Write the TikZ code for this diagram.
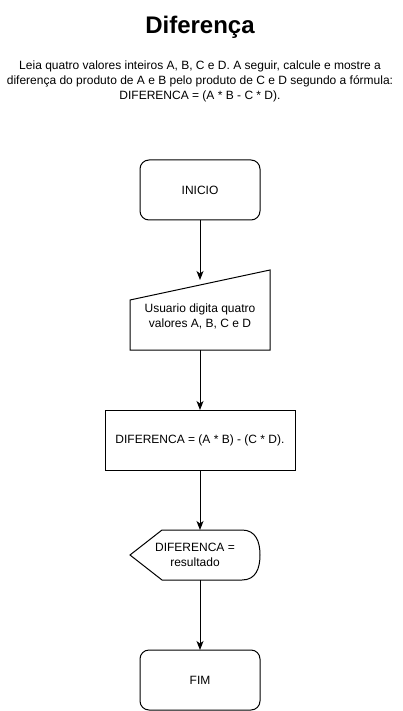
\documentclass[tikz,border=0pt]{standalone}
\usepackage{fontspec}
\setmainfont{Liberation Sans}
\usetikzlibrary{arrows.meta}
\begin{document}
\begin{tikzpicture}[x=1pt,y=-1pt,
  shapeline/.style={draw=black,line width=1pt},
  txt/.style={font=\fontsize{12}{15}\selectfont,align=center,inner sep=0pt},
  flow/.style={draw=black,line width=1pt,-{Stealth[length=9pt,width=7pt,inset=2.5pt]}}]
\useasboundingbox (0,0) rectangle (402,711);
% title and description
\node[font=\fontsize{24}{28}\selectfont\bfseries,inner sep=0pt] (title) at (200,27) {Diferença};
\node[txt] (desc) at (200,81) {Leia quatro valores inteiros A, B, C e D. A seguir, calcule e mostre a\\diferença do produto de A e B pelo produto de C e D segundo a fórmula:\\DIFERENCA = (A * B - C * D).};
% INICIO
\draw[shapeline,rounded corners=9pt] (140,160) rectangle (260,220);
\node[txt] (inicio) at (200,190) {INICIO};
\coordinate (inicioB) at (200,220);
% manual input
\draw[shapeline] (130,300) -- (270,270) -- (270,350) -- (130,350) -- cycle;
\node[txt] (entrada) at (200,316) {Usuario digita quatro\\valores A, B, C e D};
\coordinate (entradaT) at (200,280);
\coordinate (entradaB) at (200,350);
% process
\draw[shapeline] (105,410) rectangle (295,470);
\node[txt] (calc) at (200,440) {DIFERENCA = (A * B) - (C * D).};
\coordinate (calcT) at (200,410);
\coordinate (calcB) at (200,470);
% display
\draw[shapeline] (130,555) -- (162,530) -- (242,530) .. controls (256,530) and (260,542) .. (260,555)
  .. controls (260,568) and (256,580) .. (242,580) -- (162,580) -- cycle;
\node[txt] (saida) at (195,555) {DIFERENCA =\\resultado};
\coordinate (saidaT) at (200,530);
\coordinate (saidaB) at (200,580);
% FIM
\draw[shapeline,rounded corners=9pt] (140,650) rectangle (260,710);
\node[txt] (fim) at (200,680) {FIM};
\coordinate (fimT) at (200,650);
% connectors
\draw[flow] (inicioB) -- (entradaT);
\draw[flow] (entradaB) -- (calcT);
\draw[flow] (calcB) -- (saidaT);
\draw[flow] (saidaB) -- (fimT);
\end{tikzpicture}
\end{document}
